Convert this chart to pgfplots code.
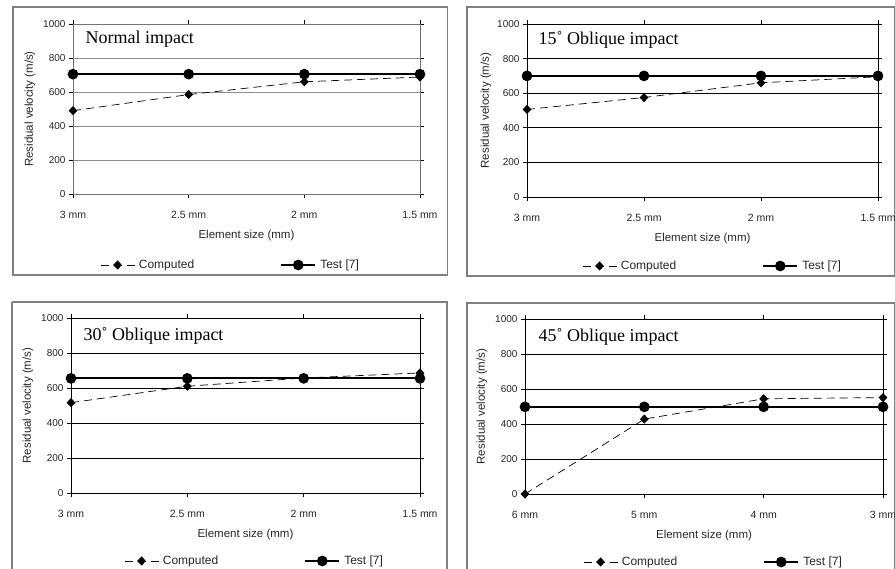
\documentclass[border=0pt]{standalone}
\usepackage{pgfplots}
\pgfplotsset{compat=1.18}
\usepackage{fontspec}
\setmainfont{Liberation Sans}
\newfontfamily\timesf{Liberation Serif}
\usetikzlibrary{plotmarks}

\pgfplotsset{
  panel/.style={
    scale only axis,
    anchor=south west,
    xmin=0, xmax=3, ymin=0, ymax=1000,
    xtick={0,1,2,3},
    ytick={0,200,400,600,800,1000},
    ymajorgrids,
    tick align=outside,
    major tick length=4pt,
    tick style={black, line width=0.6pt},
    axis line style={line width=0.8pt},
    /pgf/number format/assume math mode=true,
    /pgf/number format/1000 sep={},
    tick label style={font=\fontsize{10}{11}\selectfont, text=black!85},
    xticklabel style={yshift=-10pt, font=\fontsize{10.5}{11}\selectfont},
    xlabel={Element size (mm)},
    ylabel={Residual velocity (m/s)},
    label style={font=\fontsize{11.5}{12}\selectfont, text=black!85},
    xlabel style={at={(axis description cs:0.5,0)}, anchor=center, yshift=-42pt},
    ylabel style={at={(axis description cs:0,0.5)}, anchor=center, yshift=43pt},
    clip=false,
    legend columns=2,
    legend cell align=left,
    legend style={draw=none, fill=none, inner sep=0pt,
      font=\fontsize{12}{13}\selectfont, text=black!85,
      at={(axis description cs:0,0)}, anchor=west, yshift=-71pt, xshift=27pt,
      /tikz/every even column/.append style={column sep=84pt}},
    legend image code/.code={
      \draw[mark repeat=2, mark phase=2, #1] plot coordinates {(0pt,0pt) (17pt,0pt) (34pt,0pt)};
      \path (36pt,0pt);
    },
  },
  comp/.style={black, line width=0.7pt, dash pattern=on 8pt off 5pt,
    mark=diamond*, mark size=4.5pt, mark options={solid, fill=black, xscale=1.15, yscale=0.9}},
  test/.style={black, line width=2pt, mark=*, mark size=4.3pt, mark options={solid, fill=black}},
}

\begin{document}
\begin{tikzpicture}[x=1pt, y=1pt]
\useasboundingbox (0,0) rectangle (895,569);
% panel frames
\draw[black!50, line width=1.5pt] (13,569-7) rectangle (447.5,569-275);
\draw[black!50, line width=1.5pt] (467,569-7) rectangle (894.3,569-276);
\draw[black!50, line width=1.5pt] (12,569-302) -- (12,-5);
\draw[black!50, line width=1.5pt] (12,569-302) -- (447,569-302) -- (447,-5);
\draw[black!50, line width=1.5pt] (467,-5) -- (467,569-303) -- (894.3,569-303) -- (894.3,-5);

% Panel 1
\begin{axis}[panel, at={(73pt,375pt)}, width=347pt, height=170pt,
  xticklabels={3 mm, 2.5 mm, 2 mm, 1.5 mm},
  grid style={black!45, line width=0.7pt},
  axis line style={black!55, line width=0.8pt}]
\addplot[comp] coordinates {(0,490) (1,585) (2,660) (3,688)};
\addlegendentry{Computed}
\addplot[test] coordinates {(0,705) (1,705) (2,705) (3,705)};
\addlegendentry{Test [7]}
\node[anchor=west, font=\timesf\fontsize{18}{20}\selectfont] at (axis description cs:0,1) [xshift=9pt, yshift=-15pt] {Normal impact};
\end{axis}

% Panel 2
\begin{axis}[panel, at={(527pt,372pt)}, width=351pt, height=173pt,
  xticklabels={3 mm, 2.5 mm, 2 mm, 1.5 mm},
  grid style={black, line width=0.7pt},
  ylabel style={yshift=-2pt},
  legend style={xshift=28pt, yshift=2pt}]
\addplot[comp] coordinates {(0,506) (1,575) (2,660) (3,695)};
\addlegendentry{Computed}
\addplot[test] coordinates {(0,700) (1,700) (2,700) (3,700)};
\addlegendentry{Test [7]}
\node[anchor=west, font=\timesf\fontsize{18}{20}\selectfont] at (axis description cs:0,1) [xshift=8pt, yshift=-16pt] {15˚ Oblique impact};
\end{axis}

% Panel 3
\begin{axis}[panel, at={(71pt,76pt)}, width=349pt, height=175pt,
  xticklabels={3 mm, 2.5 mm, 2 mm, 1.5 mm},
  grid style={black, line width=0.7pt},
  legend style={xshift=26pt, yshift=3pt}]
\addplot[comp] coordinates {(0,516) (1,610) (2,657) (3,686)};
\addlegendentry{Computed}
\addplot[test] coordinates {(0,655) (1,655) (2,655) (3,655)};
\addlegendentry{Test [7]}
\node[anchor=west, font=\timesf\fontsize{18}{20}\selectfont] at (axis description cs:0,1) [xshift=9pt, yshift=-18pt] {30˚ Oblique impact};
\end{axis}

% Panel 4
\begin{axis}[panel, at={(525pt,75pt)}, width=358pt, height=175pt,
  xticklabels={6 mm, 5 mm, 4 mm, 3 mm},
  grid style={black, line width=0.7pt},
  legend style={xshift=31pt, yshift=3pt}]
\addplot[comp] coordinates {(0,0) (1,428) (2,544) (3,551)};
\addlegendentry{Computed}
\addplot[test] coordinates {(0,498) (1,498) (2,498) (3,498)};
\addlegendentry{Test [7]}
\node[anchor=west, font=\timesf\fontsize{18}{20}\selectfont] at (axis description cs:0,1) [xshift=10pt, yshift=-18pt] {45˚ Oblique impact};
\end{axis}
\end{tikzpicture}
\end{document}
